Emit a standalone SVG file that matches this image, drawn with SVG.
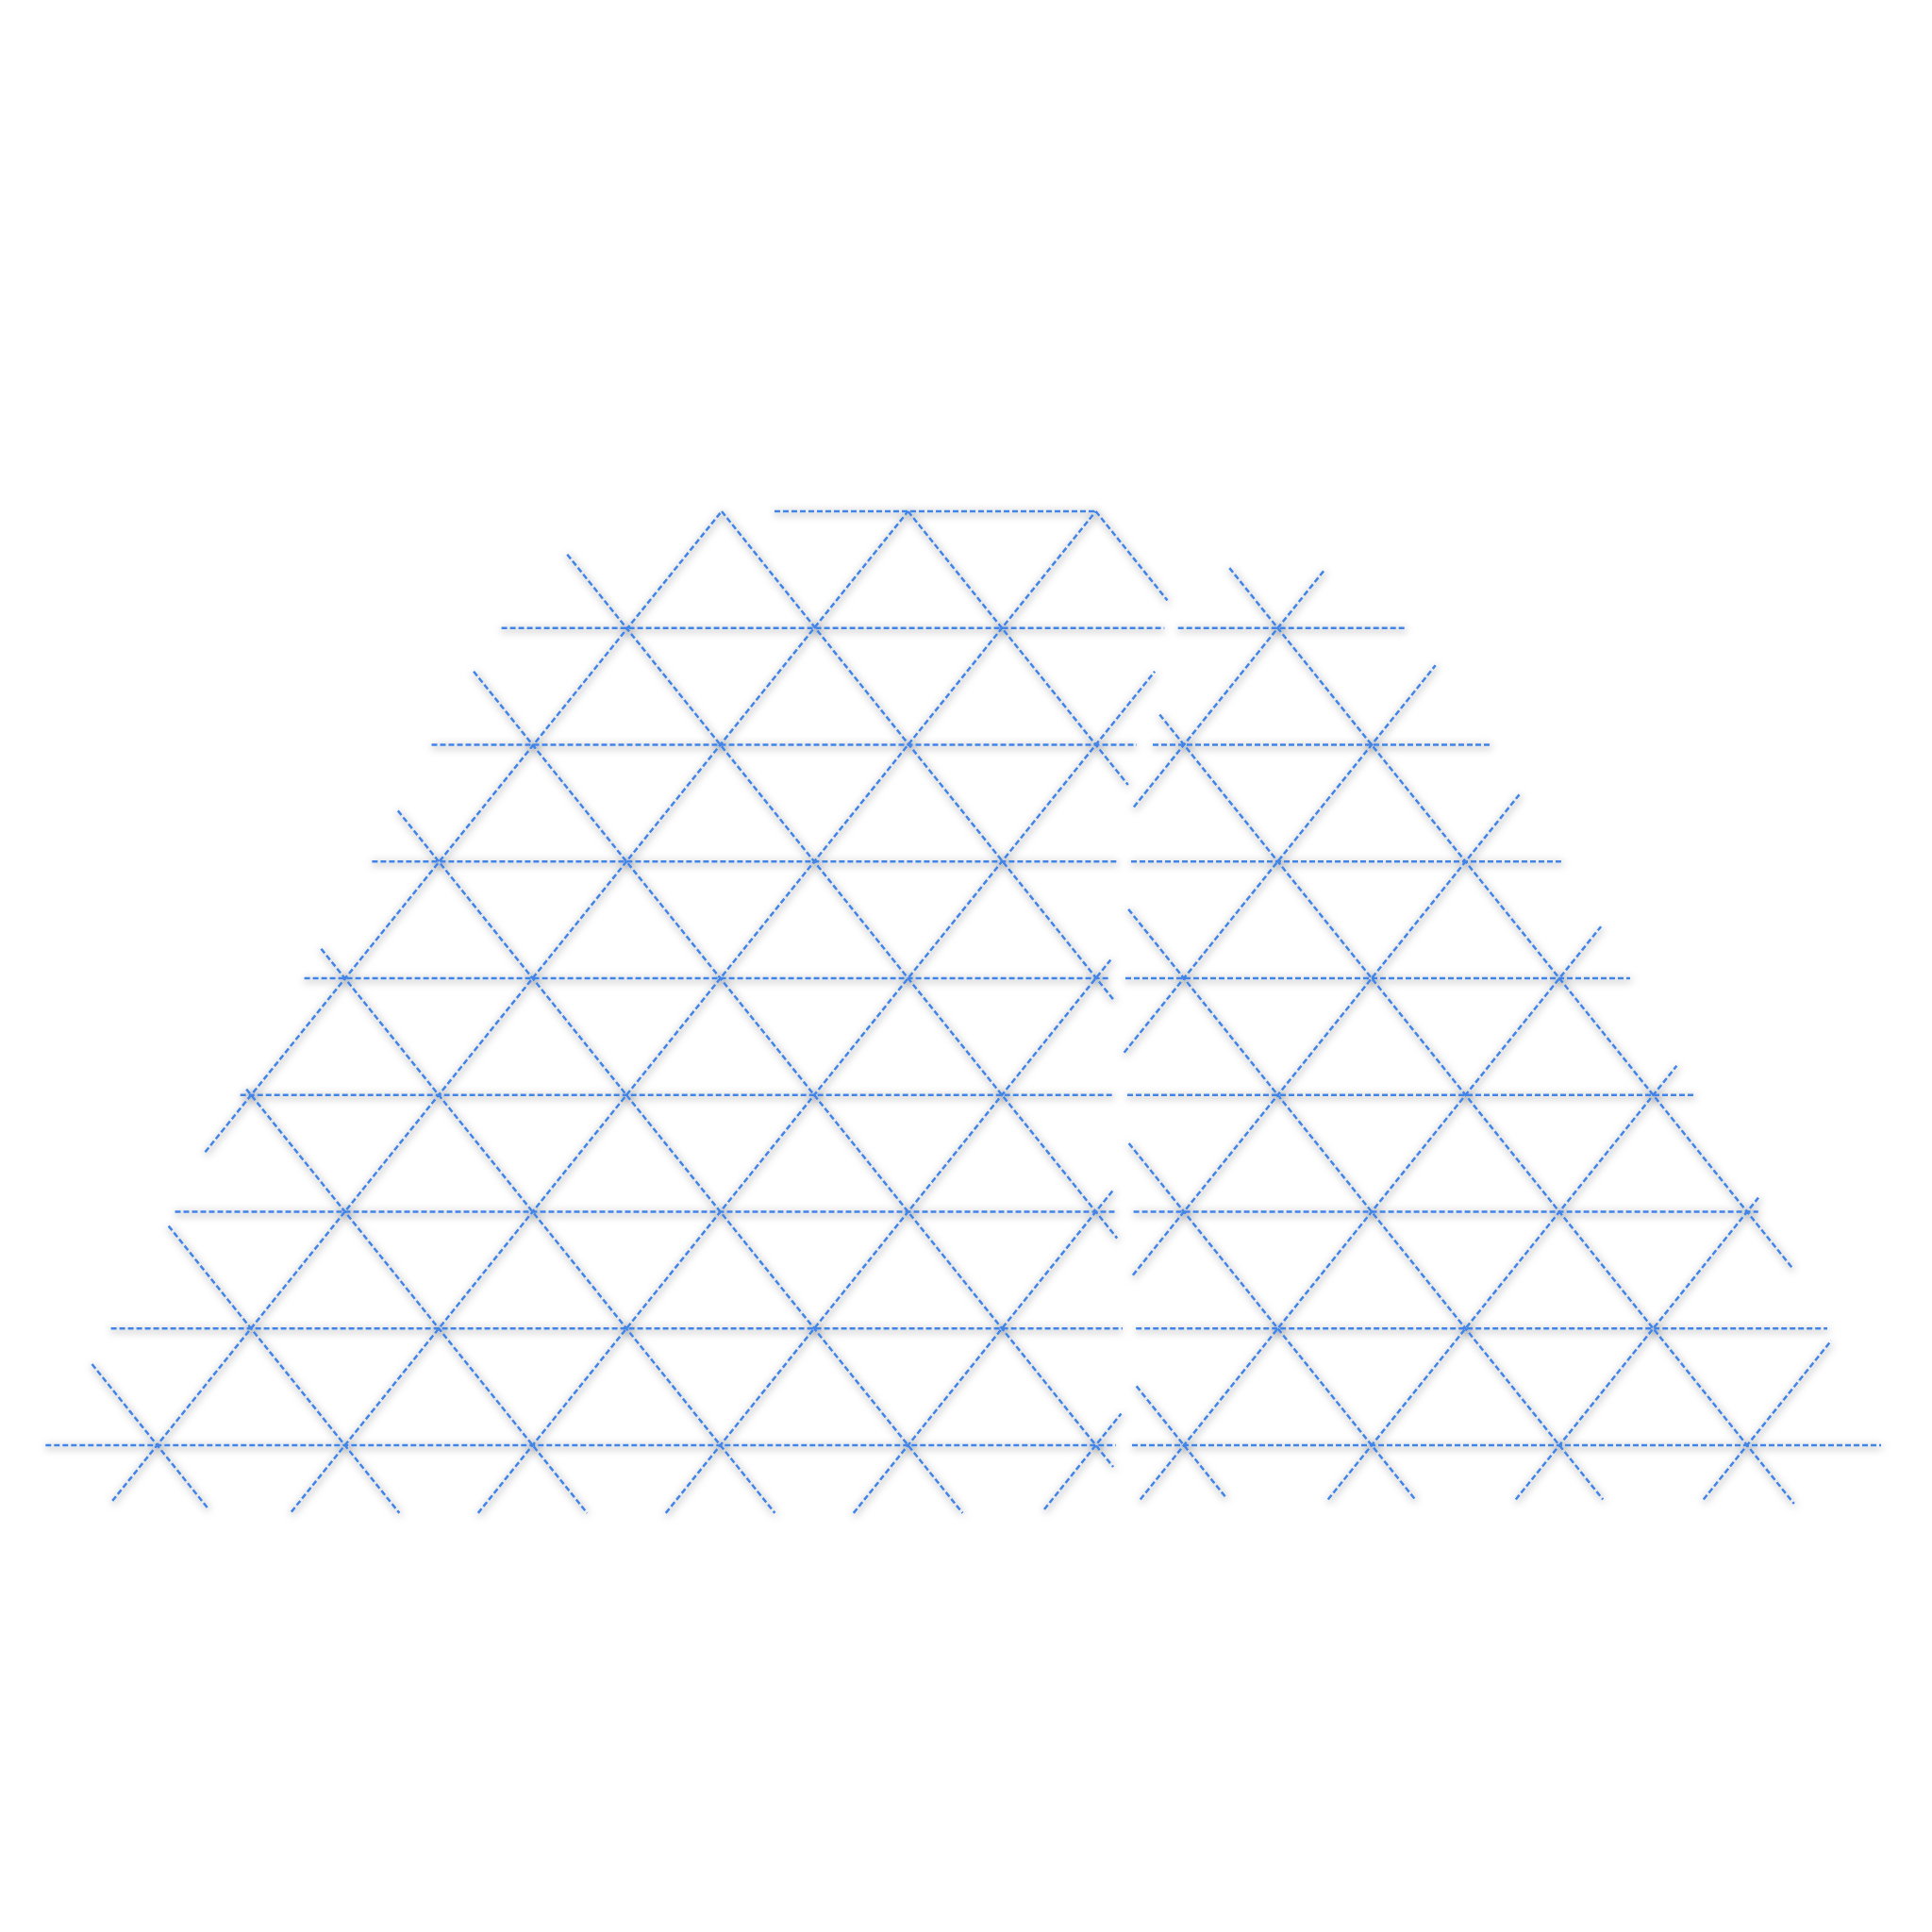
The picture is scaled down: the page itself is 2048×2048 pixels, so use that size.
<svg xmlns="http://www.w3.org/2000/svg" width="2048" height="2048" viewBox="0 0 2048 2048">
<defs>
<style>
.g line{stroke:#4283e6;stroke-width:2.5;stroke-dasharray:6 3;fill:none}
</style>
<filter id="sh" x="-10%" y="-10%" width="120%" height="120%">
<feDropShadow dx="1" dy="2" stdDeviation="4" flood-color="#000" flood-opacity="0.6"/>
</filter>
</defs>
<rect width="2048" height="2048" fill="#fff"/>
<g id="connectors" class="g" filter="url(#sh)">
<g id="left-horizontal">
<line x1="821" y1="542" x2="1161.6" y2="542"/>
<line x1="531.6" y1="665.75" x2="1234.3" y2="665.75"/>
<line x1="457.5" y1="789.5" x2="1205" y2="789.5"/>
<line x1="394.4" y1="913.25" x2="1183.3" y2="913.25"/>
<line x1="322.6" y1="1037" x2="1177" y2="1037"/>
<line x1="254.7" y1="1160.75" x2="1179.4" y2="1160.75"/>
<line x1="185.5" y1="1284.5" x2="1184" y2="1284.5"/>
<line x1="117.6" y1="1408.25" x2="1189.9" y2="1408.25"/>
<line x1="48.3" y1="1532" x2="1183" y2="1532"/>
</g>
<g id="right-horizontal">
<line x1="1248.7" y1="665.75" x2="1490.3" y2="665.75"/>
<line x1="1222" y1="789.5" x2="1580.4" y2="789.5"/>
<line x1="1199" y1="913.25" x2="1654.9" y2="913.25"/>
<line x1="1193" y1="1037" x2="1728" y2="1037"/>
<line x1="1195" y1="1160.75" x2="1796" y2="1160.75"/>
<line x1="1201.6" y1="1284.5" x2="1863.8" y2="1284.5"/>
<line x1="1204.2" y1="1408.25" x2="1937" y2="1408.25"/>
<line x1="1200" y1="1532" x2="1994" y2="1532"/>
</g>
<g id="left-rising">
<line x1="217.5" y1="1221.2" x2="765" y2="542"/>
<line x1="119.2" y1="1590.9" x2="962.6" y2="542"/>
<line x1="308.9" y1="1602.6" x2="1161.6" y2="542"/>
<line x1="506.8" y1="1603.9" x2="1224.1" y2="711.8"/>
<line x1="705.8" y1="1603.9" x2="1177.3" y2="1017.5"/>
<line x1="904.8" y1="1603.9" x2="1181" y2="1260.4"/>
<line x1="1107" y1="1600" x2="1188.5" y2="1498.5"/>
</g>
<g id="left-falling">
<line x1="97.5" y1="1446" x2="221.3" y2="1600"/>
<line x1="178.7" y1="1299.6" x2="423.4" y2="1603.9"/>
<line x1="261.2" y1="1154.6" x2="622.4" y2="1603.9"/>
<line x1="340.4" y1="1005.7" x2="821.4" y2="1603.9"/>
<line x1="421.8" y1="859.4" x2="1020.4" y2="1603.9"/>
<line x1="502.1" y1="711.8" x2="1180.1" y2="1555"/>
<line x1="601.3" y1="587.7" x2="1184.2" y2="1312.6"/>
<line x1="765" y1="542" x2="1181.4" y2="1061"/>
<line x1="962.6" y1="542" x2="1195.8" y2="832"/>
<line x1="1161.6" y1="542" x2="1237.5" y2="636.4"/>
</g>
<g id="right-rising">
<line x1="1208.8" y1="1589.5" x2="1697.1" y2="982.2"/>
<line x1="1407.8" y1="1589.5" x2="1777.4" y2="1129.8"/>
<line x1="1606.8" y1="1589.5" x2="1864" y2="1269.6"/>
<line x1="1805.8" y1="1589.5" x2="1941.2" y2="1421.1"/>
<line x1="1200.9" y1="1351.8" x2="1610.5" y2="842.4"/>
<line x1="1191.7" y1="1115.7" x2="1521.7" y2="705.3"/>
<line x1="1201.9" y1="855.5" x2="1403.6" y2="604.7"/>
</g>
<g id="right-falling">
<line x1="1303.3" y1="602.1" x2="1899.8" y2="1344"/>
<line x1="1229.3" y1="757.5" x2="1901.8" y2="1594"/>
<line x1="1196.2" y1="963.9" x2="1699.2" y2="1589.5"/>
<line x1="1196.7" y1="1212" x2="1500.2" y2="1589.5"/>
<line x1="1204.7" y1="1469.4" x2="1299.2" y2="1587"/>
</g>
</g>
</svg>
